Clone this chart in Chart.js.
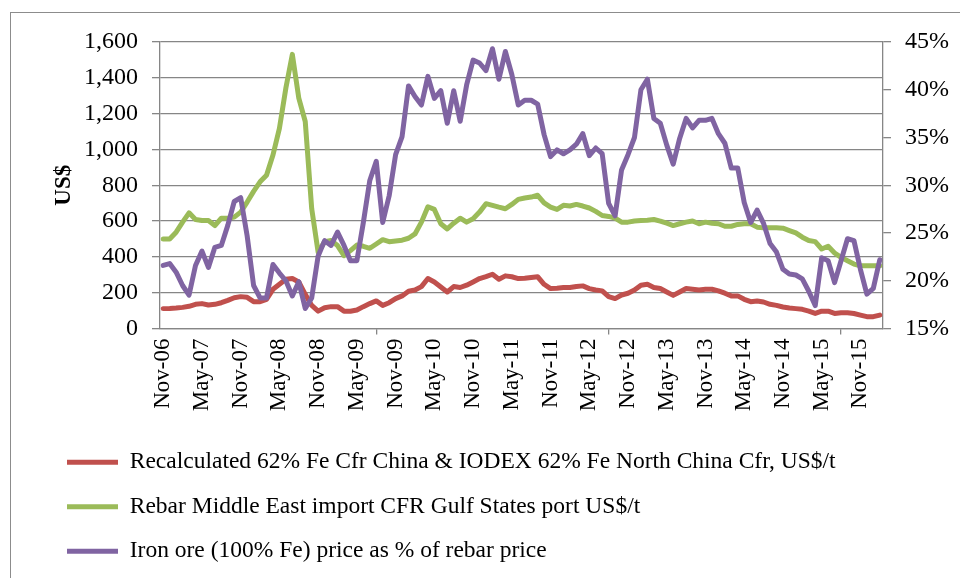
<!DOCTYPE html>
<html>
<head>
<meta charset="utf-8">
<script src="https://cdn.jsdelivr.net/npm/chart.js@4.4.1/dist/chart.umd.min.js"></script>
<style>
  html, body { margin: 0; padding: 0; background: #fff; }
  #wrap { position: relative; width: 960px; height: 578px; overflow: hidden; }
  #frame { position: absolute; left: 10px; top: 12px; width: 960px; height: 580px;
           border-left: 1px solid #8c8c8c; border-top: 1px solid #8c8c8c; }
  #chart { position: absolute; left: 0; top: 0; }
</style>
</head>
<body>
<div id="wrap">
  <div id="frame"></div>
  <canvas id="chart" width="960" height="578"></canvas>
</div>
<script>
// Monthly data, Nov-06 .. Feb-16
const startYear = 2006, startMonth = 10, monthCount = 112;
const monthNames = ['Jan','Feb','Mar','Apr','May','Jun','Jul','Aug','Sep','Oct','Nov','Dec'];

// Recalculated 62% Fe Cfr China & IODEX, US$/t
const ironOrePrice = [
  111,112,114,118,124,135,139,131,135,144,
  157,172,178,174,150,150,163,219,247,275,
  279,260,191,129,97,116,122,122,97,96,
  103,122,139,154,129,144,167,182,208,215,
  234,279,260,232,204,234,229,242,260,279,
  290,303,275,294,289,279,281,285,289,247,
  223,225,229,229,234,238,223,215,210,178,
  167,187,197,215,242,247,229,223,204,185,
  204,223,219,215,219,219,210,197,182,182,
  163,150,154,148,135,129,120,114,111,107,
  97,84,97,97,84,88,88,84,75,66,
  66,75
];

// Rebar Middle East import CFR Gulf States port, US$/t
const rebarPrice = [
  500,500,538,594,646,609,603,603,575,616,
  616,622,650,706,766,819,856,969,1118,1343,
  1531,1287,1156,669,425,485,491,463,407,435,
  466,459,448,472,496,485,489,493,504,528,
  594,680,665,585,556,588,616,594,613,650,
  697,688,678,669,693,721,729,734,744,701,
  678,665,688,684,693,684,673,654,631,626,
  616,594,594,600,603,605,609,600,588,575,
  585,594,600,585,594,588,585,571,571,581,
  585,585,566,562,562,562,560,547,534,510,
  491,485,444,459,422,397,378,360,350,350,
  350,350
];

// Iron ore (100% Fe) price as % of rebar price
const orePctOfRebar = [
  21.6,21.8,20.9,19.5,18.5,21.6,23.1,21.4,23.5,23.7,
  25.8,28.3,28.7,24.7,19.5,18.2,18.2,21.7,20.8,20.0,
  18.4,19.9,17.1,18.2,22.6,24.2,23.7,25.1,23.7,22.1,
  22.1,26.1,30.5,32.5,26.1,28.9,33.2,35.1,40.4,39.3,
  38.4,41.4,39.1,39.9,36.5,39.9,36.7,40.5,43.1,42.8,
  42.0,44.3,41.1,44.0,41.6,38.4,38.9,38.9,38.5,35.3,
  33.0,33.7,33.3,33.7,34.3,35.4,33.1,33.9,33.3,28.1,
  26.8,31.6,33.2,35.0,40.0,41.1,37.0,36.5,34.2,32.2,
  34.9,37.0,36.0,36.8,36.8,37.0,35.4,34.4,31.8,31.8,
  28.2,26.1,27.4,26.0,23.9,23.0,21.2,20.7,20.6,20.2,
  18.9,17.4,22.4,22.1,19.8,22.1,24.4,24.2,21.2,18.6,
  19.2,22.2
];

const leftTicks = { min: 0, max: 1600, step: 200 };
const rightTicks = { min: 15, max: 45, step: 5 };

// category labels, e.g. "Nov-06"
const categories = [];
for (let i = 0; i < monthCount; i++) {
    const m = (startMonth + i) % 12;
    const y = startYear + Math.floor((startMonth + i) / 12);
    categories.push(monthNames[m] + '-' + String(y % 100).padStart(2, '0'));
}

const axisGrey = '#868686';
const serif = "'Liberation Serif', 'Times New Roman', serif";

const ctx = document.getElementById('chart').getContext('2d');
new Chart(ctx, {
    type: 'line',
    data: {
        labels: categories,
        datasets: [
            {
                label: 'Recalculated 62% Fe Cfr China & IODEX 62% Fe North China Cfr, US$/t',
                data: ironOrePrice,
                borderColor: '#C0504D',
                backgroundColor: '#C0504D',
                yAxisID: 'y',
                order: 2
            },
            {
                label: 'Rebar Middle East import CFR Gulf States port US$/t',
                data: rebarPrice,
                borderColor: '#9BBB59',
                backgroundColor: '#9BBB59',
                yAxisID: 'y',
                order: 1
            },
            {
                label: 'Iron ore (100% Fe) price as % of rebar price',
                data: orePctOfRebar,
                borderColor: '#8064A2',
                backgroundColor: '#8064A2',
                yAxisID: 'y1',
                order: 0
            }
        ]
    },
    options: {
        responsive: false,
        animation: false,
        layout: { padding: { top: 42, left: 46, right: 8, bottom: 5 } },
        elements: {
            line: { borderWidth: 5, tension: 0, borderCapStyle: 'round', borderJoinStyle: 'round' },
            point: { radius: 0, hoverRadius: 0 }
        },
        plugins: {
            tooltip: { enabled: false },
            legend: {
                position: 'bottom',
                align: 'start',
                labels: {
                    boxWidth: 51,
                    boxHeight: 5,
                    padding: 21,
                    color: '#000',
                    font: { family: serif, size: 23.5 },
                    sort: (a, b) => a.datasetIndex - b.datasetIndex,
                    generateLabels: function(chart) {
                        const items = Chart.defaults.plugins.legend.labels.generateLabels(chart);
                        items.forEach(it => { it.lineWidth = 0; });
                        return items;
                    }
                }
            }
        },
        scales: {
            x: {
                type: 'category',
                offset: true,
                grid: {
                    offset: true,
                    drawOnChartArea: false,
                    tickLength: 6,
                    lineWidth: 1.3,
                    color: axisGrey,
                    tickColor: c => (c.index % 6 === 0 ? axisGrey : 'rgba(0,0,0,0)')
                },
                border: { color: axisGrey, width: 1.3 },
                ticks: {
                    autoSkip: false,
                    minRotation: 90,
                    maxRotation: 90,
                    padding: 4,
                    color: '#000',
                    font: { family: serif, size: 23 },
                    callback: function(val, i) {
                        return i % 6 === 0 ? categories[i] : null;
                    }
                },
                afterFit: s => { s.height = 101; }
            },
            y: {
                position: 'left',
                min: leftTicks.min,
                max: leftTicks.max,
                title: {
                    display: true,
                    text: 'US$',
                    color: '#000',
                    font: { family: serif, size: 23, weight: 'bold' },
                    padding: { bottom: 8 }
                },
                grid: { color: axisGrey, lineWidth: 1.3, tickLength: 8 },
                border: { color: axisGrey, width: 1.3 },
                ticks: {
                    stepSize: leftTicks.step,
                    padding: 14,
                    color: '#000',
                    font: { family: serif, size: 24 }
                },
                afterFit: s => { s.width = 114; }
            },
            y1: {
                position: 'right',
                min: rightTicks.min,
                max: rightTicks.max,
                grid: { drawOnChartArea: false, color: axisGrey, lineWidth: 1.3, tickLength: 8 },
                border: { color: axisGrey, width: 1.3 },
                ticks: {
                    stepSize: rightTicks.step,
                    padding: 14,
                    color: '#000',
                    font: { family: serif, size: 24 },
                    callback: v => v + '%'
                },
                afterFit: s => { s.width = 69; }
            }
        }
    }
});
</script>
</body>
</html>
